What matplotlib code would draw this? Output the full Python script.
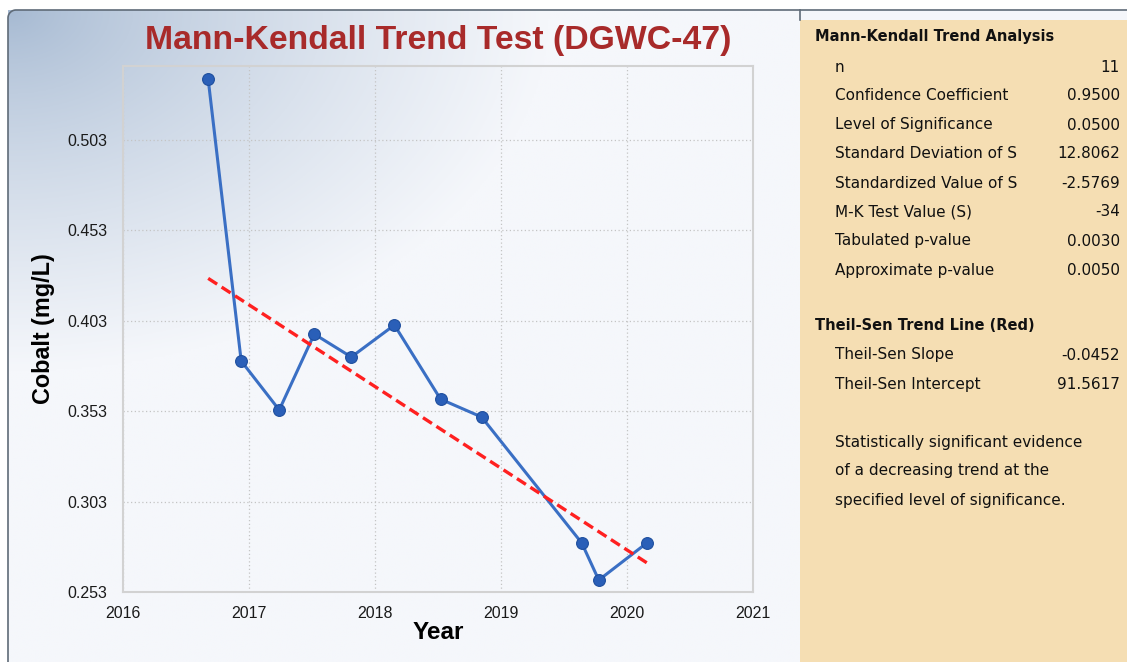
import numpy as np
import matplotlib.pyplot as plt
from matplotlib import font_manager as fm
from matplotlib.patches import Rectangle

# sampling dates (decimal years) and cobalt results, mg/L
years = [2016.676, 2016.938, 2017.240, 2017.518, 2017.812, 2018.154,
         2018.520, 2018.846, 2019.641, 2019.776, 2020.157]
cobalt = [0.5367, 0.3808, 0.3537, 0.3957, 0.3830, 0.4007,
          0.3597, 0.3498, 0.2801, 0.2596, 0.2801]

y_ticks = [0.253, 0.303, 0.353, 0.403, 0.453, 0.503]
x_ticks = [2016, 2017, 2018, 2019, 2020, 2021]

# Mann-Kendall summary table
mk_rows = [("n", "11"),
           ("Confidence Coefficient", "0.9500"),
           ("Level of Significance", "0.0500"),
           ("Standard Deviation of S", "12.8062"),
           ("Standardized Value of S", "-2.5769"),
           ("M-K Test Value (S)", "-34"),
           ("Tabulated p-value", "0.0030"),
           ("Approximate p-value", "0.0050")]
ts_slope = -0.0452
ts_intercept = 91.5617
ts_rows = [("Theil-Sen Slope", "%.4f" % ts_slope),
           ("Theil-Sen Intercept", "%.4f" % ts_intercept)]
conclusion = ["Statistically significant evidence",
              "of a decreasing trend at the",
              "specified level of significance."]


def arial(size, bold=False):
    # pick the regular-width Liberation Sans file, not the narrow one
    name = "LiberationSans-Bold.ttf" if bold else "LiberationSans-Regular.ttf"
    for f in fm.fontManager.ttflist:
        if f.fname.endswith(name):
            return fm.FontProperties(fname=f.fname, size=size)
    return fm.FontProperties(family="DejaVu Sans", size=size,
                             weight="bold" if bold else "normal")


W, H = 1127, 662
fig = plt.figure(figsize=(W / 100, H / 100), dpi=100)
fig.patch.set_facecolor("white")

# background layer in pixel coordinates
bg = fig.add_axes([0, 0, 1, 1])
bg.set_xlim(0, W)
bg.set_ylim(H, 0)
bg.axis("off")

# chart panel with a bluish gradient from the top-left corner
px0, py0, px1, py1 = 8, 10, 800, H
gx, gy = np.meshgrid(np.linspace(0, 1, 400), np.linspace(0, 1, 330))
d = np.sqrt((gx * (px1 - px0) / 540) ** 2 + (gy * (py1 - py0) / 360) ** 2)
t = np.clip(d, 0, 1) ** 0.75
c0 = np.array([164, 184, 209]) / 255
c1 = np.array([245, 247, 251]) / 255
img = c0[None, None, :] * (1 - t[..., None]) + c1[None, None, :] * t[..., None]
bg.imshow(img, extent=(px0, px1, py1, py0), aspect="auto", zorder=0)

# panel outline: left edge, rounded corner, top edge
r = 8
a = np.linspace(np.pi, 1.5 * np.pi, 20)
ox = np.concatenate([[px0], px0 + r + r * np.cos(a), [W]])
oy = np.concatenate([[H], py0 + r + r * np.sin(a), [py0]])
bg.plot(ox, oy, color="#5f6b78", lw=1.2, zorder=3)

# summary panel on the right
bg.add_patch(Rectangle((800, 10), W - 800, 10, fc="#f4f6fa", ec="none", zorder=1))
bg.add_patch(Rectangle((800, 20), W - 800, H - 20, fc="#f5deb3", ec="none", zorder=1))
bg.plot([800, 800], [10, 20], color="#5f6b78", lw=1.2, zorder=3)

# plot area
ax = fig.add_axes([123 / W, 1 - 592 / H, (753 - 123) / W, (592 - 66) / H])
ax.set_facecolor("none")
ax.set_xlim(2016, 2021)
ax.set_ylim(0.253, 0.544)
ax.set_xticks(x_ticks)
ax.set_yticks(y_ticks)
ax.set_yticklabels(["%.3f" % v for v in y_ticks])
ax.grid(True, color="#c4c4c4", linestyle=(0, (1, 2)), lw=0.9)
ax.tick_params(length=0, colors="#1a1a1a")
ax.tick_params(axis="x", pad=10)
ax.tick_params(axis="y", pad=11)
for lab in ax.get_xticklabels() + ax.get_yticklabels():
    lab.set_fontproperties(arial(11.5))
for s in ax.spines.values():
    s.set_color("#d2d2d2")
    s.set_linewidth(1.5)

ax.plot(years, cobalt, color="#3a6fc4", lw=2.2, marker="o", ms=8.5,
        mfc="#2a5fb8", mec="#1f4f9e", mew=0.8, zorder=3, clip_on=False)

# Theil-Sen line through the median point
xs = np.array([min(years), max(years)])
trend = ts_slope * (xs - np.median(years)) + np.median(cobalt)
ax.plot(xs, trend, color="#ff2020", lw=2.4, ls=(0, (3.2, 1.6)), zorder=4)

ax.set_xlabel("Year", fontproperties=arial(17.5, True), labelpad=0)
ax.set_ylabel("Cobalt (mg/L)", fontproperties=arial(16.8, True), labelpad=9)

fig.text(438 / W, 1 - 40 / H, "Mann-Kendall Trend Test (DGWC-47)", color="#a82a2a",
         fontproperties=arial(24.3, True), ha="center", va="center")


# table text
def ptext(x, y, s, fs=11, **kw):
    fig.text(x / W, 1 - y / H, s, fontsize=fs, va="center", color="#111111",
             family="DejaVu Sans", **kw)


ptext(815, 37, "Mann-Kendall Trend Analysis", fs=10.5, fontweight="bold")
for i, (k, v) in enumerate(mk_rows):
    y = 67 + i * 29
    ptext(835, y, k)
    ptext(1120, y, v, ha="right")

ptext(815, 326, "Theil-Sen Trend Line (Red)", fs=10.5, fontweight="bold")
for i, (k, v) in enumerate(ts_rows):
    y = 355 + i * 29
    ptext(835, y, k)
    ptext(1120, y, v, ha="right")

for i, line in enumerate(conclusion):
    ptext(835, 442 + i * 29, line)

fig.savefig("out.png", dpi=100)
